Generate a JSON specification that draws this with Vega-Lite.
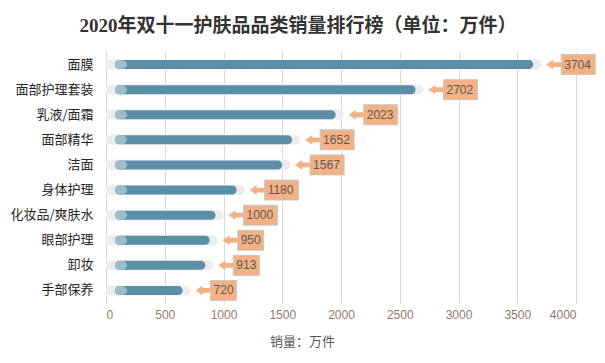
{
  "$schema": "https://vega.github.io/schema/vega-lite/v6.json",
  "width": 470,
  "height": 251,
  "autosize": "none",
  "padding": {"left": 106, "top": 52, "right": 29, "bottom": 60},
  "background": "white",
  "title": {
    "text": "2020年双十一护肤品品类销量排行榜（单位：万件）",
    "font": "Liberation Serif, Noto Sans CJK SC",
    "fontSize": 19,
    "fontWeight": "bold",
    "color": "#333333",
    "anchor": "middle",
    "dx": -43,
    "offset": 16
  },
  "config": {"view": {"stroke": null}},
  "data": {
    "values": [
      {"cat": "面膜", "value": 3704},
      {"cat": "面部护理套装", "value": 2702},
      {"cat": "乳液/面霜", "value": 2023},
      {"cat": "面部精华", "value": 1652},
      {"cat": "洁面", "value": 1567},
      {"cat": "身体护理", "value": 1180},
      {"cat": "化妆品/爽肤水", "value": 1000},
      {"cat": "眼部护理", "value": 950},
      {"cat": "卸妆", "value": 913},
      {"cat": "手部保养", "value": 720}
    ]
  },
  "encoding": {
    "y": {
      "field": "cat",
      "type": "nominal",
      "sort": null,
      "axis": {
        "title": null,
        "domain": false,
        "ticks": false,
        "labelColor": "#262626",
        "labelFont": "Noto Sans CJK SC",
        "labelFontSize": 13,
        "labelPadding": 13
      }
    }
  },
  "layer": [
    {
      "mark": {"type": "bar", "height": 10, "cornerRadius": 5, "color": "#ececec", "stroke": "#f5f5f5", "strokeWidth": 1},
      "encoding": {
        "x": {
          "field": "value",
          "type": "quantitative",
          "scale": {"domain": [0, 4000]},
          "axis": {
            "title": "销量：万件",
            "values": [0, 500, 1000, 1500, 2000, 2500, 3000, 3500, 4000],
            "format": "d",
            "grid": true,
            "gridColor": "#d9d9d9",
            "domain": false,
            "ticks": false,
            "labelColor": "#8c7c6c",
            "labelFont": "Liberation Sans",
            "labelFontSize": 12,
            "labelPadding": 6,
            "titleColor": "#595959",
            "titleFont": "Noto Sans CJK SC",
            "titleFontSize": 13,
            "titleFontWeight": "normal",
            "titleX": 196,
            "titleY": 32
          }
        },
        "x2": {"datum": 0}
      }
    },
    {
      "mark": {"type": "bar", "height": 9, "cornerRadius": 4.5, "color": "#5b8fa8", "xOffset": -8, "x2Offset": 9},
      "encoding": {
        "x": {"field": "value", "type": "quantitative"},
        "x2": {"datum": 0}
      }
    },
    {
      "mark": {"type": "point", "filled": true, "color": "#9dbdcc", "opacity": 1, "size": 144, "xOffset": 15, "shape": "M-1,0A1,0.75 0 1,0 1,0A1,0.75 0 1,0 -1,0Z"},
      "encoding": {
        "x": {"datum": 0, "type": "quantitative"}
      }
    },
    {
      "mark": {"type": "point", "filled": true, "color": "#f4b183", "opacity": 1, "size": 256, "xOffset": 13, "shape": "M-1,0L-0.125,-0.62L-0.125,-0.3L1,-0.3L1,0.3L-0.125,0.3L-0.125,0.62Z"},
      "encoding": {
        "x": {"field": "value", "type": "quantitative"}
      }
    },
    {
      "transform": [{"filter": "datum.value >= 1000"}],
      "mark": {"type": "bar", "height": 20, "color": "#f4b183", "stroke": "#c8c8c8", "strokeWidth": 1, "xOffset": 20, "x2Offset": 54},
      "encoding": {
        "x": {"field": "value", "type": "quantitative"},
        "x2": {"field": "value"}
      }
    },
    {
      "transform": [{"filter": "datum.value < 1000"}],
      "mark": {"type": "bar", "height": 20, "color": "#f4b183", "stroke": "#c8c8c8", "strokeWidth": 1, "xOffset": 20, "x2Offset": 46},
      "encoding": {
        "x": {"field": "value", "type": "quantitative"},
        "x2": {"field": "value"}
      }
    },
    {
      "mark": {"type": "text", "align": "left", "baseline": "middle", "dx": 23, "font": "Liberation Sans", "fontSize": 12, "color": "#595959"},
      "encoding": {
        "x": {"field": "value", "type": "quantitative"},
        "text": {"field": "value", "type": "quantitative", "format": "d"}
      }
    }
  ]
}
